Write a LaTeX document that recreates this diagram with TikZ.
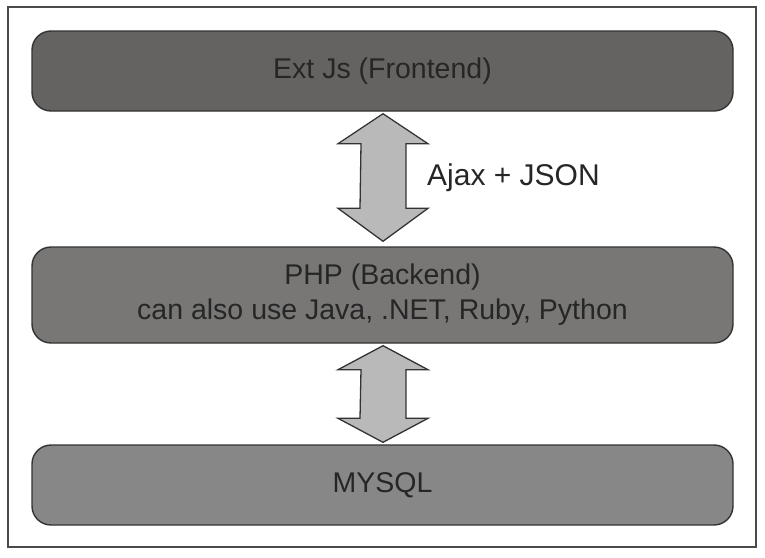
\documentclass[tikz,border=0pt]{standalone}
\usepackage{fontspec}
\setmainfont{Liberation Sans}
\usetikzlibrary{calc}
\definecolor{frameC}{HTML}{4A4A4A}
\definecolor{edgeC}{HTML}{333333}
\definecolor{fillA}{HTML}{656361}
\definecolor{fillB}{HTML}{787776}
\definecolor{fillC}{HTML}{878787}
\definecolor{arrowC}{HTML}{B9B9B9}
\definecolor{textC}{HTML}{262626}
\tikzset{
  layer/.style={draw=edgeC, line width=1.4pt, rounded corners=19pt, minimum width=701pt,
    text=textC, font=\fontsize{28.5}{35}\selectfont, align=center, inner sep=0pt},
  bigarrow/.style={draw=edgeC, fill=arrowC, line width=1.3pt, line join=miter},
}
\begin{document}
\begin{tikzpicture}[x=1pt,y=-1pt]
\useasboundingbox (0,0) rectangle (765,557);
\fill[white] (0,0) rectangle (765,557);
\draw[frameC, line width=2pt] (8,7) rectangle (756,547);
\node[layer, fill=fillA, minimum height=80pt] (ext) at (382.5,71) {Ext Js (Frontend)};
\node[layer, fill=fillB, minimum height=96pt] (php) at (382.5,295) {PHP (Backend)\\can also use Java, .NET, Ruby, Python};
\node[layer, fill=fillC, minimum height=80pt] (db) at (382.5,485) {MYSQL};
% arrow between ext and php
\coordinate (t1) at ($(ext.south)+(0.5,2)$);
\coordinate (b1) at ($(php.north)+(0.5,-5)$);
\draw[bigarrow] (t1) -- ++(45,30) -- ++(-22,0) -- ($(b1)+(23,-33)$) -- ++(22,0) -- (b1)
  -- ++(-45,-33) -- ++(22,0) -- ($(t1)+(-22,30)$) -- ++(-23,0) -- cycle;
\node[anchor=base west, text=textC, font=\fontsize{30}{36}\selectfont, inner sep=0pt] (lbl) at (427,185) {Ajax + JSON};
% arrow between php and db
\coordinate (t2) at ($(php.south)+(0.5,2)$);
\coordinate (b2) at ($(db.north)+(0.5,-2)$);
\draw[bigarrow] (t2) -- ++(45,24) -- ++(-22,0) -- ($(b2)+(23,-24)$) -- ++(22,0) -- (b2)
  -- ++(-45,-24) -- ++(22,0) -- ($(t2)+(-22,24)$) -- ++(-23,0) -- cycle;
\end{tikzpicture}
\end{document}
